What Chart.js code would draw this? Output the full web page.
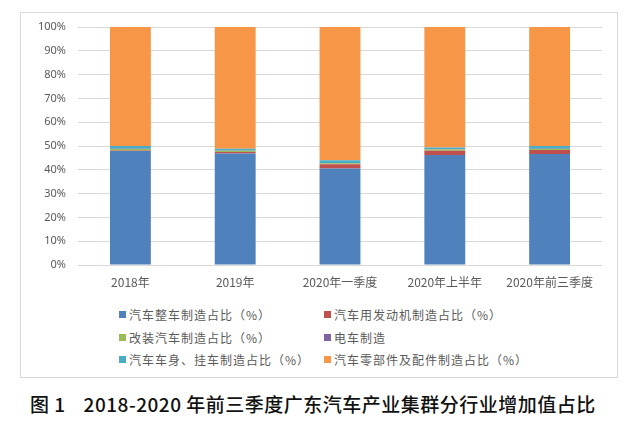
<!DOCTYPE html>
<html>
<head>
<meta charset="utf-8">
<script src="https://cdn.jsdelivr.net/npm/chart.js@4.4.1/dist/chart.umd.min.js"></script>
<style>
  body { margin: 0; width: 640px; height: 430px; background: #fff; position: relative; overflow: hidden; font-family: "Noto Sans CJK SC", sans-serif; }
  #frame { position: absolute; left: 20px; top: 12px; width: 596px; height: 364px; border: 1px solid #d9d9d9; }
  #chart { position: absolute; left: 0; top: 0; }
  .item { position: absolute; font-size: 12px; color: #595959; white-space: nowrap; line-height: 14px; letter-spacing: 1px; }
  .box { position: absolute; width: 7px; height: 7px; }
  #title { position: absolute; left: 30px; top: 392px; font-size: 19px; font-weight: 500; letter-spacing: 0.5px; color: #111; white-space: nowrap; line-height: 24px; }
</style>
</head>
<body>
<div id="frame"></div>
<canvas id="chart" width="640" height="300"></canvas>
<div id="legend"></div>
<div id="title">图 1<span style="display:inline-block;width:18px"></span>2018-2020 年前三季度广东汽车产业集群分行业增加值占比</div>
<script>
// Categories and series (percent of added value)
const categories = ['2018年', '2019年', '2020年一季度', '2020年上半年', '2020年前三季度'];
const seriesNames = [
  '汽车整车制造占比（%）',
  '汽车用发动机制造占比（%）',
  '改装汽车制造占比（%）',
  '电车制造',
  '汽车车身、挂车制造占比（%）',
  '汽车零部件及配件制造占比（%）'
];
const vehicle   = [47.9, 46.9, 40.5, 46.2, 46.6];
const engine    = [0.2, 0.6, 1.8, 1.8, 1.7];
const modified  = [0.6, 0.5, 0.4, 0.5, 0.4];
const tram      = [0.1, 0.1, 0.1, 0.1, 0.1];
const body      = [1.2, 0.7, 1.2, 0.8, 1.2];
const parts     = [50.0, 51.2, 56.0, 50.6, 50.0];
const yTicks    = [0, 10, 20, 30, 40, 50, 60, 70, 80, 90, 100];

const colors = ['#4f81bd', '#c0504d', '#9bbb59', '#8064a2', '#4bacc6', '#f79646'];
const seriesData = [vehicle, engine, modified, tram, body, parts];

const datasets = seriesData.map((d, i) => ({
  label: seriesNames[i],
  data: d,
  backgroundColor: colors[i],
  borderWidth: 0,
  barPercentage: 0.39,
  categoryPercentage: 1
}));

new Chart(document.getElementById('chart'), {
  type: 'bar',
  data: { labels: categories, datasets: datasets },
  options: {
    responsive: false,
    animation: false,
    devicePixelRatio: 1,
    layout: { padding: { left: 20, right: 38, top: 27, bottom: 0 } },
    plugins: { legend: { display: false }, tooltip: { enabled: false } },
    scales: {
      x: {
        stacked: true,
        grid: { display: false, drawTicks: false },
        border: { display: false },
        ticks: {
          color: '#595959',
          padding: 10,
          maxRotation: 0,
          font: { size: 12, family: '"Noto Sans CJK SC", sans-serif' }
        },
        afterFit: function(scale) { scale.height = 35; }
      },
      y: {
        stacked: true,
        min: 0,
        max: 100,
        afterBuildTicks: function(scale) {
          scale.ticks = yTicks.map(v => ({ value: v }));
        },
        ticks: {
          color: '#595959',
          padding: 12,
          font: { size: 11, family: '"Noto Sans", sans-serif' },
          callback: function(value) { return value + '%'; }
        },
        grid: { color: '#d9d9d9', drawTicks: false },
        border: { display: false },
        afterFit: function(scale) { scale.width = 58; }
      }
    }
  }
});

// Two-column legend like the original
const legend = document.getElementById('legend');
const colX = [119, 324];
const rowY = [315, 338, 360];
seriesNames.forEach((name, i) => {
  const x = colX[i % 2];
  const y = rowY[Math.floor(i / 2)];
  const box = document.createElement('div');
  box.className = 'box';
  box.style.left = x + 'px';
  box.style.top = (y - 4) + 'px';
  box.style.background = colors[i];
  legend.appendChild(box);
  const item = document.createElement('div');
  item.className = 'item';
  item.style.left = (x + 10) + 'px';
  item.style.top = (y - 7) + 'px';
  item.textContent = name;
  legend.appendChild(item);
});
</script>
</body>
</html>
